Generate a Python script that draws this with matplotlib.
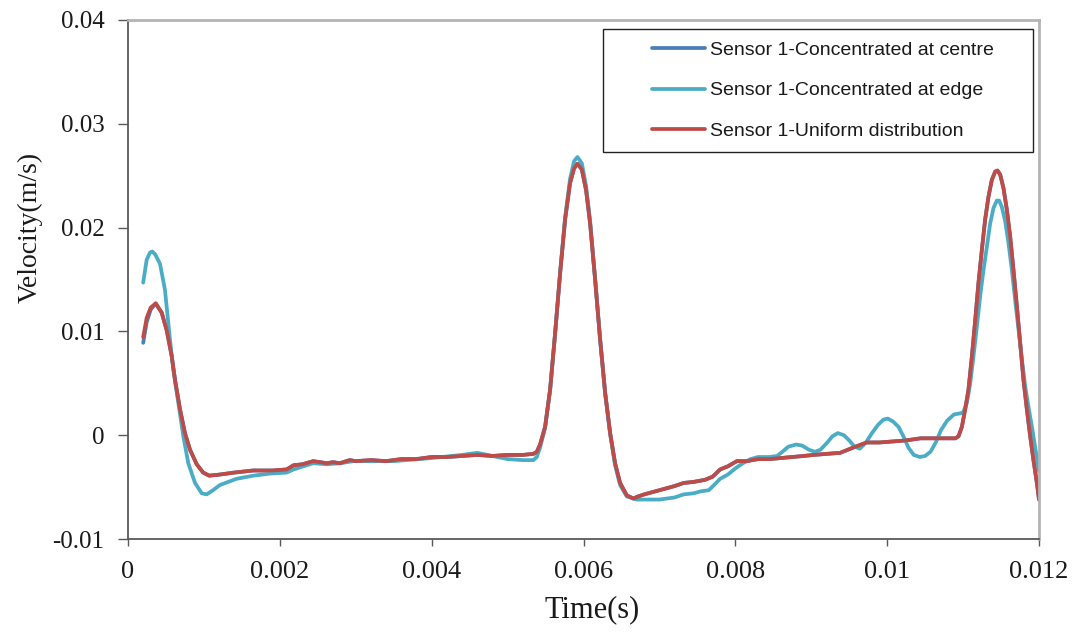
import matplotlib.pyplot as plt
from matplotlib.patches import Rectangle

# ---------------------------- data ----------------------------
labels = ['Sensor 1-Concentrated at centre',
          'Sensor 1-Concentrated at edge',
          'Sensor 1-Uniform distribution']

# time base shared by the centre and uniform runs
t_main = [0.000200, 0.000246, 0.000299, 0.000365, 0.000444, 0.000510, 0.000576, 0.000620,
          0.000685, 0.000750, 0.000817, 0.000905, 0.000990, 0.001070, 0.001200, 0.001400,
          0.001650, 0.001900, 0.002090, 0.002180, 0.002300, 0.002440, 0.002620, 0.002700,
          0.002790, 0.002920, 0.003000, 0.003200, 0.003400, 0.003600, 0.003800, 0.004000,
          0.004200, 0.004400, 0.004600, 0.004800, 0.005000, 0.005200, 0.005340, 0.005385,
          0.005428, 0.005494, 0.005560, 0.005626, 0.005692, 0.005758, 0.005823, 0.005876,
          0.005920, 0.005978, 0.006034, 0.006087, 0.006153, 0.006219, 0.006285, 0.006351,
          0.006416, 0.006482, 0.006570, 0.006657, 0.006720, 0.006800, 0.006900, 0.007000,
          0.007100, 0.007200, 0.007320, 0.007450, 0.007600, 0.007700, 0.007800, 0.007900,
          0.008020, 0.008150, 0.008300, 0.008450, 0.008600, 0.008750, 0.008900, 0.009030,
          0.009200, 0.009380, 0.009550, 0.009730, 0.009900, 0.010080, 0.010250, 0.010440,
          0.010600, 0.010790, 0.010900, 0.010940, 0.010984, 0.011028, 0.011071, 0.011116,
          0.011160, 0.011203, 0.011248, 0.011291, 0.011335, 0.011379, 0.011423, 0.011453,
          0.011489, 0.011532, 0.011577, 0.011621, 0.011664, 0.011709, 0.011752, 0.011796,
          0.011840, 0.011884, 0.011927, 0.011972, 0.012000]

v_uniform = [0.00945, 0.0113, 0.0123, 0.0127, 0.0118, 0.0101, 0.0076, 0.0053,
             0.0025, 0.0002, -0.0014, -0.0028, -0.0036, -0.0039, -0.0038, -0.0036,
             -0.0034, -0.0034, -0.0033, -0.0029, -0.0028, -0.0025, -0.0027, -0.0026,
             -0.0027, -0.0024, -0.0025, -0.0024, -0.0025, -0.0023, -0.0023, -0.0021,
             -0.0021, -0.0020, -0.0019, -0.0020, -0.0019, -0.0019, -0.0018, -0.0016,
             -0.0009, 0.0008, 0.0044, 0.0098, 0.0156, 0.0208, 0.0243, 0.0257,
             0.02615, 0.0256, 0.0236, 0.0204, 0.0150, 0.0092, 0.0041, 0.0002,
             -0.0027, -0.0046, -0.0058, -0.0061, -0.0059, -0.0057, -0.0055, -0.0053,
             -0.0051, -0.0049, -0.0046, -0.0045, -0.0043, -0.0040, -0.0033, -0.0030,
             -0.0025, -0.0025, -0.0023, -0.0023, -0.0022, -0.0021, -0.0020, -0.0019,
             -0.0018, -0.0017, -0.0012, -0.0007, -0.0007, -0.0006, -0.0005, -0.0003,
             -0.0003, -0.0003, -0.0003, -0.0001, 0.0008, 0.0025, 0.0044, 0.0076,
             0.0111, 0.0147, 0.0179, 0.0208, 0.0230, 0.0246, 0.0254, 0.0255,
             0.0251, 0.0238, 0.0217, 0.0191, 0.0159, 0.0124, 0.0089, 0.0053,
             0.0025, -0.0001, -0.0024, -0.0046, -0.0062]

v_centre = [0.0089, 0.0109, 0.0121, 0.0127, 0.0118, 0.0101, 0.0076, 0.0053,
            0.0025, 0.0002, -0.0014, -0.0028, -0.0036, -0.0039, -0.0038, -0.0036,
            -0.0034, -0.0034, -0.0033, -0.0029, -0.0028, -0.0025, -0.0027, -0.0026,
            -0.0027, -0.0024, -0.0025, -0.0024, -0.0025, -0.0023, -0.0023, -0.0021,
            -0.0021, -0.0020, -0.0019, -0.0020, -0.0019, -0.0019, -0.0018, -0.0016,
            -0.0009, 0.0008, 0.0044, 0.0098, 0.0156, 0.0208, 0.0243, 0.0257,
            0.02615, 0.0256, 0.0236, 0.0204, 0.0150, 0.0092, 0.0041, 0.0002,
            -0.0027, -0.0046, -0.0058, -0.0061, -0.0059, -0.0057, -0.0055, -0.0053,
            -0.0051, -0.0049, -0.0046, -0.0045, -0.0043, -0.0040, -0.0033, -0.0030,
            -0.0025, -0.0025, -0.0023, -0.0023, -0.0022, -0.0021, -0.0020, -0.0019,
            -0.0018, -0.0017, -0.0012, -0.0007, -0.0007, -0.0006, -0.0005, -0.0003,
            -0.0003, -0.0003, -0.0003, -0.0001, 0.0008, 0.0025, 0.0044, 0.0076,
            0.0111, 0.0147, 0.0179, 0.0208, 0.0230, 0.0246, 0.0254, 0.0255,
            0.0251, 0.0238, 0.0217, 0.0191, 0.0159, 0.0124, 0.0089, 0.0053,
            0.0025, -0.0001, -0.0024, -0.0046, -0.0062]

t_edge = [0.000200, 0.000246, 0.000290, 0.000320, 0.000360, 0.000422, 0.000487, 0.000553,
          0.000597, 0.000663, 0.000729, 0.000794, 0.000883, 0.000971, 0.001037, 0.001120,
          0.001210, 0.001430, 0.001650, 0.001870, 0.002090, 0.002180, 0.002440, 0.002620,
          0.002800, 0.002970, 0.003500, 0.004000, 0.004400, 0.004600, 0.004800, 0.005000,
          0.005200, 0.005340, 0.005385, 0.005428, 0.005494, 0.005560, 0.005626, 0.005692,
          0.005758, 0.005823, 0.005876, 0.005920, 0.005978, 0.006034, 0.006087, 0.006153,
          0.006219, 0.006285, 0.006351, 0.006416, 0.006482, 0.006570, 0.006657, 0.006700,
          0.006880, 0.007000, 0.007100, 0.007200, 0.007320, 0.007450, 0.007550, 0.007650,
          0.007720, 0.007800, 0.007900, 0.008000, 0.008100, 0.008200, 0.008300, 0.008450,
          0.008550, 0.008620, 0.008700, 0.008800, 0.008880, 0.008970, 0.009050, 0.009120,
          0.009200, 0.009280, 0.009350, 0.009430, 0.009500, 0.009570, 0.009640, 0.009720,
          0.009800, 0.009880, 0.009950, 0.010010, 0.010080, 0.010150, 0.010220, 0.010280,
          0.010350, 0.010430, 0.010500, 0.010570, 0.010640, 0.010710, 0.010790, 0.010880,
          0.010960, 0.011000, 0.011050, 0.011094, 0.011137, 0.011182, 0.011225, 0.011269,
          0.011314, 0.011357, 0.011401, 0.011445, 0.011476, 0.011510, 0.011555, 0.011598,
          0.011643, 0.011686, 0.011730, 0.011775, 0.011818, 0.011862, 0.011907, 0.011950,
          0.012000]

v_edge = [0.0147, 0.0169, 0.0176, 0.0177, 0.0174, 0.0165, 0.0140, 0.0092,
          0.0063, 0.0031, -0.0001, -0.0027, -0.0046, -0.0056, -0.0057, -0.0053,
          -0.0048, -0.0042, -0.0039, -0.0037, -0.0036, -0.0033, -0.0027, -0.0028,
          -0.0027, -0.0025, -0.0025, -0.0022, -0.0019, -0.0017, -0.0020, -0.0023,
          -0.0024, -0.0024, -0.0021, -0.0012, 0.0007, 0.0043, 0.0098, 0.0157,
          0.0210, 0.0247, 0.0264, 0.0268, 0.0262, 0.0240, 0.0207, 0.0151,
          0.0093, 0.0040, 0.0001, -0.0029, -0.0048, -0.0059, -0.0061, -0.0062,
          -0.0062, -0.0062, -0.0061, -0.0060, -0.0057, -0.0056, -0.0054, -0.0053,
          -0.0048, -0.0042, -0.0038, -0.0032, -0.0027, -0.0023, -0.0021, -0.0021,
          -0.0020, -0.0016, -0.0011, -0.0009, -0.0010, -0.0014, -0.0016, -0.0014,
          -0.0008, -0.0001, 0.0002, 0.0000, -0.0005, -0.0011, -0.0013, -0.0007,
          0.0002, 0.0010, 0.0015, 0.0016, 0.0013, 0.0008, -0.0002, -0.0012,
          -0.0019, -0.0021, -0.0020, -0.0016, -0.0007, 0.0005, 0.0014, 0.0020,
          0.0021, 0.0022, 0.0031, 0.0050, 0.0076, 0.0105, 0.0134, 0.0159,
          0.0182, 0.0204, 0.0219, 0.0226, 0.0226, 0.0220, 0.0206, 0.0185,
          0.0159, 0.0130, 0.0102, 0.0073, 0.0047, 0.0027, 0.0008, -0.0012,
          -0.0035]

x_ticks = [0, 0.002, 0.004, 0.006, 0.008, 0.010, 0.012]
x_tick_labels = ['0', '0.002', '0.004', '0.006', '0.008', '0.01', '0.012']
y_ticks = [-0.01, 0, 0.01, 0.02, 0.03, 0.04]
y_tick_labels = ['-0.01', '0', '0.01', '0.02', '0.03', '0.04']

# ---------------------------- plotting ----------------------------
serif = 'Liberation Serif'
fig = plt.figure(figsize=(10.78, 6.34), dpi=100)
ax = fig.add_axes([128 / 1078, 95 / 634, 911 / 1078, 519 / 634])

lw = 2.7
ax.plot(t_main, v_centre, color='#4A7EBB', lw=lw, label=labels[0],
        solid_capstyle='round', solid_joinstyle='round')
ax.plot(t_edge, v_edge, color='#4BACC6', lw=lw, label=labels[1],
        solid_capstyle='round', solid_joinstyle='round')
ax.plot(t_main, v_uniform, color='#BE4B48', lw=lw, label=labels[2],
        solid_capstyle='round', solid_joinstyle='round')

ax.set_xlim(0, 0.012)
ax.set_ylim(-0.01, 0.04)
ax.set_xticks(x_ticks)
ax.set_xticklabels(x_tick_labels, fontfamily=serif, fontsize=19)
ax.set_yticks(y_ticks)
ax.set_yticklabels(y_tick_labels, fontfamily=serif, fontsize=18)
ax.tick_params(axis='x', direction='out', length=5, width=1, color='#595959', pad=11,
               labelcolor='#1a1a1a')
ax.tick_params(axis='y', direction='out', length=7, width=1, color='#595959', pad=10,
               labelcolor='#1a1a1a')

for side in ['left', 'bottom']:
    ax.spines[side].set_color('#595959')
    ax.spines[side].set_linewidth(1.3)
for side in ['top', 'right']:
    ax.spines[side].set_color('#b4b4b4')
    ax.spines[side].set_linewidth(2)

ax.set_xlabel('Time(s)', fontfamily=serif, fontsize=22, color='#1a1a1a')
ax.set_ylabel('Velocity(m/s)', fontfamily=serif, fontsize=20, color='#1a1a1a')
ax.xaxis.set_label_coords(0.51, -0.108)
ax.yaxis.set_label_coords(-0.094, 0.601)

# legend box drawn by hand, entries via legend without frame
ax.add_patch(Rectangle((0.5214, 0.7457), 0.472, 0.237, transform=ax.transAxes,
                       facecolor='white', edgecolor='#222222', lw=1, zorder=4))
leg = ax.legend(loc='upper left', bbox_to_anchor=(0.5752, 0.959), frameon=False,
                borderpad=0, borderaxespad=0, handlelength=2.7, handletextpad=0.28,
                labelspacing=1.18, prop={'family': 'Liberation Sans', 'size': 14})
leg.set_zorder(5)
for text in leg.get_texts():
    text.set_color('#1a1a1a')

fig.savefig('out.png', dpi=100)
